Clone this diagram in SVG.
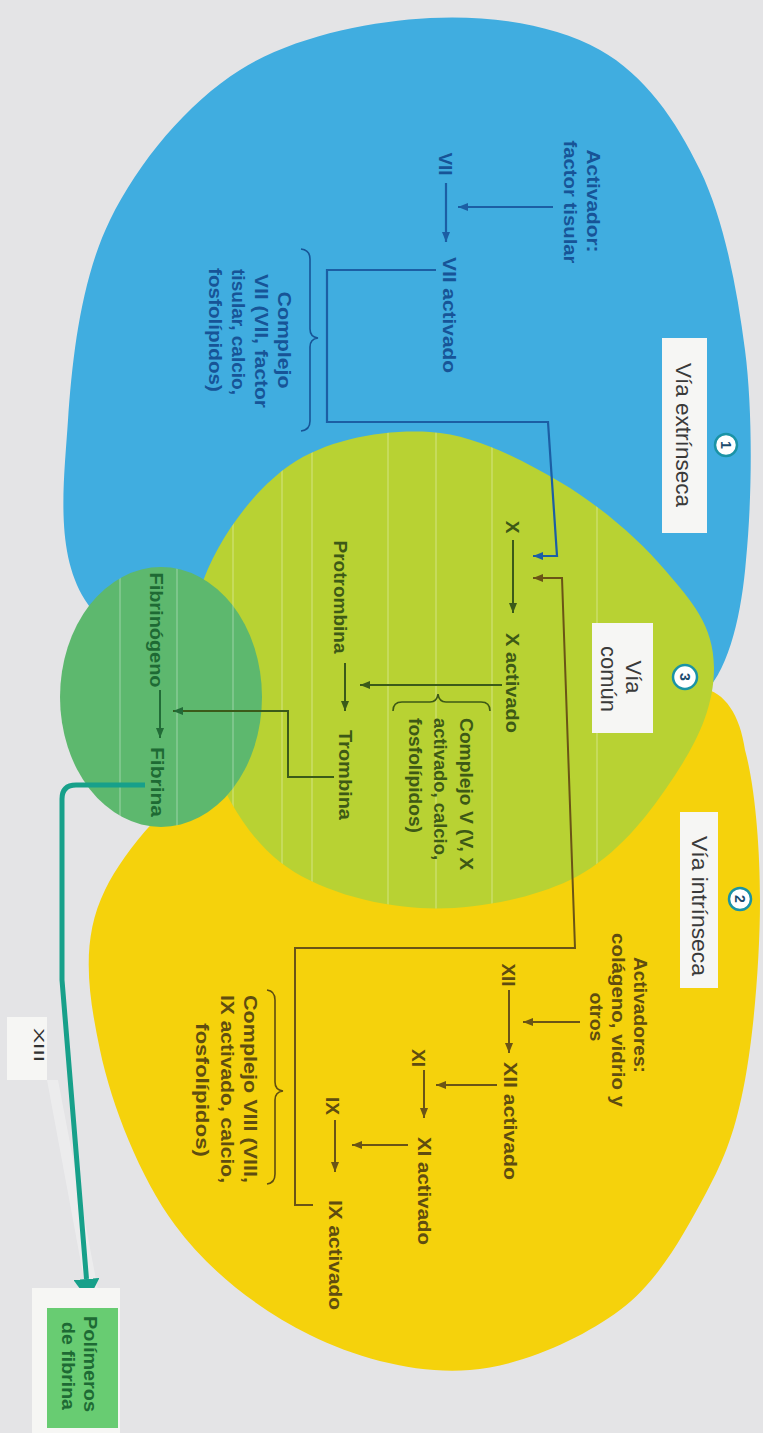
<svg xmlns="http://www.w3.org/2000/svg" width="763" height="1433" viewBox="0 0 763 1433">
<defs>
<style>
text{font-family:"Liberation Sans",Arial,sans-serif;}
.t{font-size:19px;font-weight:bold;text-anchor:middle;dominant-baseline:central;}
.s{text-anchor:start;}
.tb{fill:#175497;}
.tl{fill:#3d5916;}
.tg{fill:#1e6a34;}
.ty{fill:#5f4d10;}
.lab{font-size:22px;fill:#3a3a3a;text-anchor:middle;dominant-baseline:central;}
.box{fill:#f6f6f4;}
.cb{fill:none;stroke:#1c5ea4;stroke-width:2.2;}
.cl{fill:none;stroke:#3b5a19;stroke-width:2;}
.cg{fill:none;stroke:#226b37;stroke-width:2;}
.cy{fill:none;stroke:#6a5416;stroke-width:2;}
.br{fill:none;stroke-width:1.6;}
.badge circle{fill:#ffffff;stroke:#1a93a6;stroke-width:2.5;}
.badge text{font-size:14px;font-weight:bold;fill:#1b4c6e;text-anchor:middle;dominant-baseline:central;}
.stripe{stroke:#ffffff;stroke-opacity:0.2;stroke-width:2;}
</style>
<marker id="ab" markerUnits="userSpaceOnUse" markerWidth="10" markerHeight="8" refX="10" refY="4" orient="auto"><path d="M0,0 L10,4 L0,8 Z" fill="#1c5ea4"/></marker>
<marker id="al" markerUnits="userSpaceOnUse" markerWidth="10" markerHeight="8" refX="10" refY="4" orient="auto"><path d="M0,0 L10,4 L0,8 Z" fill="#3b5a19"/></marker>
<marker id="ag" markerUnits="userSpaceOnUse" markerWidth="10" markerHeight="8" refX="10" refY="4" orient="auto"><path d="M0,0 L10,4 L0,8 Z" fill="#226b37"/></marker>
<marker id="ay" markerUnits="userSpaceOnUse" markerWidth="10" markerHeight="8" refX="10" refY="4" orient="auto"><path d="M0,0 L10,4 L0,8 Z" fill="#6a5416"/></marker>
<marker id="at" markerUnits="userSpaceOnUse" markerWidth="22" markerHeight="26" refX="0" refY="13" orient="auto"><path d="M0,0 L21,13 L0,26 Z" fill="#17a08a"/></marker>
<clipPath id="limeclip">
<path d="M430,432 C475,434.8 520.8,459 560,482 C599.2,505 638.8,539 665,570 C691.2,601 714,625 714,668 C714,715 689.5,754.7 665,790 C640.5,825.3 610.8,860.3 570,880 C529.2,899.7 468.3,911 420,908 C371.7,905 315.8,890 280,862 C244.2,834 218.3,785.3 205,740 C191.7,694.7 185.8,635.8 200,590 C214.2,544.2 251.7,491.3 290,465 C328.3,438.7 385,429.2 430,432 Z"/>
<ellipse cx="161" cy="697" rx="101" ry="130"/>
</clipPath>
</defs>

<rect x="0" y="0" width="763" height="1433" fill="#e4e4e6"/>

<g id="regions">
<path id="region-extrinseca" fill="#40ade0" d="M430,18 C490,14.7 555,24.7 600,50 C645,75.3 675.8,120 700,170 C724.2,220 737,288.3 745,350 C753,411.7 752,500 746,560 C742,610 730,668 705,692 C690,705 575.8,726.7 500,730 C424.2,733.3 319.2,731.7 250,710 C180.8,688.3 115.3,648.3 85,600 C54.7,551.7 63.8,483.3 68,420 C72.2,356.7 81.3,278.3 110,220 C138.7,161.7 186.7,103.7 240,70 C293.3,36.3 370,21.3 430,18 Z"/>
<path id="region-intrinseca" fill="#f5d20c" d="M702,688 C725,692 740,715 745,750 C754.7,785.3 760,845 760,900 C760,955 754.2,1030.8 745,1080 C735.8,1129.2 725.8,1156.7 705,1195 C684.2,1233.3 659.2,1280.8 620,1310 C580.8,1339.2 521.7,1365.8 470,1370 C418.3,1374.2 359.2,1359.2 310,1335 C260.8,1310.8 210,1272.5 175,1225 C140,1177.5 111.7,1105.8 100,1050 C88.3,994.2 80,940.8 105,890 C130,839.2 187.5,780 250,745 C312.5,710 404.7,689.5 480,680 C555.3,670.5 657.8,676.3 702,688 Z"/>
<path id="region-comun" fill="#b8d233" d="M430,432 C475,434.8 520.8,459 560,482 C599.2,505 638.8,539 665,570 C691.2,601 714,625 714,668 C714,715 689.5,754.7 665,790 C640.5,825.3 610.8,860.3 570,880 C529.2,899.7 468.3,911 420,908 C371.7,905 315.8,890 280,862 C244.2,834 218.3,785.3 205,740 C191.7,694.7 185.8,635.8 200,590 C214.2,544.2 251.7,491.3 290,465 C328.3,438.7 385,429.2 430,432 Z"/>
<ellipse id="region-fibrina" cx="161" cy="697" rx="101" ry="130" fill="#5db86e"/>
<g clip-path="url(#limeclip)">
<line class="stripe" x1="120" y1="400" x2="120" y2="950"/>
<line class="stripe" x1="177" y1="400" x2="177" y2="950"/>
<line class="stripe" x1="233" y1="400" x2="233" y2="950"/>
<line class="stripe" x1="282" y1="400" x2="282" y2="950"/>
<line class="stripe" x1="312" y1="400" x2="312" y2="950"/>
<line class="stripe" x1="388" y1="400" x2="388" y2="950"/>
<line class="stripe" x1="436" y1="400" x2="436" y2="950"/>
<line class="stripe" x1="492" y1="400" x2="492" y2="950"/>
<line class="stripe" x1="597" y1="400" x2="597" y2="950"/>
</g>
<polygon points="47,1080 58,1080 98,1290 86,1290" fill="#ffffff" fill-opacity="0.3"/>
</g>

<g id="connectors">
<path class="cb" d="M553,207 H458" marker-end="url(#ab)"/>
<path class="cb" d="M446,183 V242" marker-end="url(#ab)"/>
<path class="cb" d="M436,270 H327 V422 H548 L557,556 H533" marker-end="url(#ab)"/>
<path class="cl" d="M513,540 V613" marker-end="url(#al)"/>
<path class="cl" d="M502,685 H360" marker-end="url(#al)"/>
<path class="cl" d="M345,663 V711" marker-end="url(#al)"/>
<path class="cl" d="M334,777 H288 V711 H173" marker-end="url(#ag)"/>
<path class="cg" d="M160,690 V738" marker-end="url(#ag)"/>
<path class="cy" d="M580,1022 H523" marker-end="url(#ay)"/>
<path class="cy" d="M509,990 V1053" marker-end="url(#ay)"/>
<path class="cy" d="M497,1085 H436" marker-end="url(#ay)"/>
<path class="cy" d="M424,1070 V1118" marker-end="url(#ay)"/>
<path class="cy" d="M408,1145 H352" marker-end="url(#ay)"/>
<path class="cy" d="M335,1120 V1172" marker-end="url(#ay)"/>
<path class="cy" d="M313,1205 H295 V948 H575 L562,578 H533" marker-end="url(#ay)"/>
<path d="M145,785 H76 Q62,785 62,799 V980 L86.5,1279" fill="none" stroke="#17a08a" stroke-width="5" marker-end="url(#at)"/>
</g>

<g id="label-extrinseca">
<rect class="box" x="662" y="338" width="45" height="195"/>
<text class="lab" transform="translate(683,435) rotate(90)" textLength="144" lengthAdjust="spacingAndGlyphs">Vía extrínseca</text>
<g class="badge"><circle cx="726" cy="445" r="11"/><text transform="translate(726,445) rotate(90)">1</text></g>
</g>
<g id="label-comun">
<rect class="box" x="592" y="623" width="61" height="110"/>
<text class="lab" transform="translate(633,677) rotate(90)">Vía</text>
<text class="lab" transform="translate(608,679) rotate(90)" textLength="66" lengthAdjust="spacingAndGlyphs">común</text>
<g class="badge"><circle cx="685" cy="677" r="12"/><text transform="translate(685,677) rotate(90)">3</text></g>
</g>
<g id="label-intrinseca">
<rect class="box" x="680" y="812" width="38" height="176"/>
<text class="lab" transform="translate(699,906) rotate(90)" textLength="140" lengthAdjust="spacingAndGlyphs">Vía intrínseca</text>
<g class="badge"><circle cx="740" cy="899" r="11"/><text transform="translate(740,899) rotate(90)">2</text></g>
</g>

<g id="n-activador">
<text class="t tb" transform="translate(593,201) rotate(90)" textLength="103" lengthAdjust="spacingAndGlyphs">Activador:</text>
<text class="t tb" transform="translate(570,202) rotate(90)" textLength="123" lengthAdjust="spacingAndGlyphs">factor tisular</text>
</g>
<g id="n-vii"><text class="t tb" transform="translate(445,164) rotate(90)">VII</text></g>
<g id="n-vii-activado"><text class="t tb" transform="translate(449,315) rotate(90)" textLength="116" lengthAdjust="spacingAndGlyphs">VII activado</text></g>
<g id="n-complejo-vii">
<path class="br" stroke="#175497" d="M301,249 Q310,250 310,259 V329 Q310,337 318,338 Q310,339 310,347 V421 Q310,430 301,431"/>
<text class="t tb" transform="translate(284,340) rotate(90)" textLength="97" lengthAdjust="spacingAndGlyphs">Complejo</text>
<text class="t tb" transform="translate(261,341) rotate(90)" textLength="134" lengthAdjust="spacingAndGlyphs">VII (VII, factor</text>
<text class="t tb" transform="translate(238,332) rotate(90)" textLength="126" lengthAdjust="spacingAndGlyphs">tisular, calcio,</text>
<text class="t tb" transform="translate(215,330) rotate(90)" textLength="124" lengthAdjust="spacingAndGlyphs">fosfolípidos)</text>
</g>

<g id="n-x"><text class="t tl" transform="translate(512,527) rotate(90)">X</text></g>
<g id="n-x-activado"><text class="t tl" transform="translate(512,683) rotate(90)" textLength="100" lengthAdjust="spacingAndGlyphs">X activado</text></g>
<g id="n-complejo-v">
<path class="br" stroke="#3d5916" d="M393,711 Q393,702 402,702 H430 Q437,702 438,694 Q439,702 446,702 H481 Q490,702 490,711"/>
<text class="t tl s" transform="translate(466,718) rotate(90)" textLength="152" lengthAdjust="spacingAndGlyphs">Complejo V (V, X</text>
<text class="t tl s" transform="translate(440,718) rotate(90)" textLength="142" lengthAdjust="spacingAndGlyphs">activado, calcio,</text>
<text class="t tl s" transform="translate(415,718) rotate(90)" textLength="115" lengthAdjust="spacingAndGlyphs">fosfolípidos)</text>
</g>
<g id="n-protrombina"><text class="t tl" transform="translate(340,597) rotate(90)" textLength="113" lengthAdjust="spacingAndGlyphs">Protrombina</text></g>
<g id="n-trombina"><text class="t tl" transform="translate(345,775) rotate(90)" textLength="90" lengthAdjust="spacingAndGlyphs">Trombina</text></g>
<g id="n-fibrinogeno"><text class="t tg" transform="translate(156,630) rotate(90)" textLength="115" lengthAdjust="spacingAndGlyphs">Fibrinógeno</text></g>
<g id="n-fibrina"><text class="t tg" transform="translate(157,782) rotate(90)" textLength="70" lengthAdjust="spacingAndGlyphs">Fibrina</text></g>

<g id="n-xiii">
<rect class="box" x="7" y="1017" width="40" height="63"/>
<text transform="translate(39,1045) rotate(90)" font-size="15" fill="#333333" text-anchor="middle" dominant-baseline="central" textLength="34" lengthAdjust="spacingAndGlyphs">XIII</text>
</g>
<g id="n-polimeros">
<rect class="box" x="32" y="1288" width="88" height="145"/>
<rect x="47" y="1308" width="71" height="120" fill="#68cc72"/>
<text class="tg" transform="translate(90,1364) rotate(90)" font-size="18" font-weight="bold" text-anchor="middle" dominant-baseline="central" textLength="96" lengthAdjust="spacingAndGlyphs">Polímeros</text>
<text class="tg" transform="translate(68,1366) rotate(90)" font-size="18" font-weight="bold" text-anchor="middle" dominant-baseline="central" textLength="88" lengthAdjust="spacingAndGlyphs">de fibrina</text>
</g>

<g id="n-activadores">
<text class="t ty" transform="translate(640,1015) rotate(90)" textLength="116" lengthAdjust="spacingAndGlyphs">Activadores:</text>
<text class="t ty" transform="translate(618,1020) rotate(90)" textLength="174" lengthAdjust="spacingAndGlyphs">colágeno, vidrio y</text>
<text class="t ty" transform="translate(596,1017) rotate(90)" textLength="49" lengthAdjust="spacingAndGlyphs">otros</text>
</g>
<g id="n-xii"><text class="t ty" transform="translate(508,975) rotate(90)">XII</text></g>
<g id="n-xii-activado"><text class="t ty" transform="translate(510,1121) rotate(90)" textLength="118" lengthAdjust="spacingAndGlyphs">XII activado</text></g>
<g id="n-xi"><text class="t ty" transform="translate(418,1058) rotate(90)">XI</text></g>
<g id="n-xi-activado"><text class="t ty" transform="translate(424,1191) rotate(90)" textLength="108" lengthAdjust="spacingAndGlyphs">XI activado</text></g>
<g id="n-ix"><text class="t ty" transform="translate(332,1106) rotate(90)">IX</text></g>
<g id="n-ix-activado"><text class="t ty" transform="translate(335,1255) rotate(90)" textLength="110" lengthAdjust="spacingAndGlyphs">IX activado</text></g>
<g id="n-complejo-viii">
<path class="br" stroke="#5f4d10" d="M267,990 Q275,991 275,1000 V1082 Q275,1090 283,1091 Q275,1092 275,1100 V1174 Q275,1183 267,1184"/>
<text class="t ty" transform="translate(250,1089) rotate(90)" textLength="188" lengthAdjust="spacingAndGlyphs">Complejo VIII (VIII,</text>
<text class="t ty" transform="translate(227,1089) rotate(90)" textLength="188" lengthAdjust="spacingAndGlyphs">IX activado, calcio,</text>
<text class="t ty" transform="translate(202,1090) rotate(90)" textLength="134" lengthAdjust="spacingAndGlyphs">fosfolípidos)</text>
</g>
</svg>
